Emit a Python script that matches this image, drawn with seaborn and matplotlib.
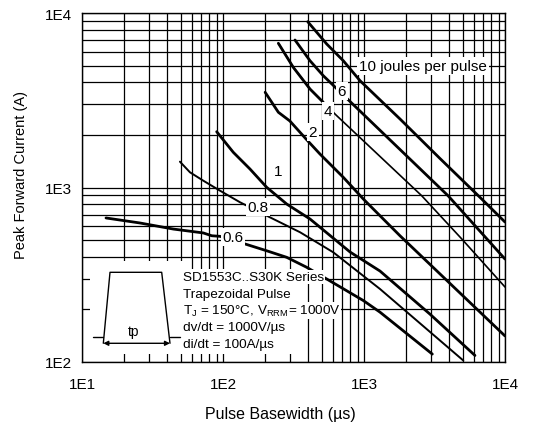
import matplotlib
matplotlib.use("Agg")
import matplotlib.pyplot as plt
import seaborn as sns
import pandas as pd
from matplotlib.ticker import LogLocator, NullFormatter
from matplotlib.patches import Rectangle

# ---------------- data ----------------
t_10 = [399, 544, 713, 937, 1800, 3459, 6836, 10000]
i_10 = [8915, 6642, 5328, 4093, 2470, 1466, 859, 634]

t_6 = [324, 414, 514, 754, 1800, 3963, 10000]
i_6 = [7003, 5328, 4373, 3245, 1651, 894, 389]

t_4 = [247, 315, 414, 514, 633, 2566, 4938, 10000]
i_4 = [6705, 4884, 3668, 3078, 2603, 897, 507, 269]

t_2 = [199, 247, 298, 388, 487, 713, 989, 1800, 10000]
i_2 = [3513, 2698, 2405, 1897, 1556, 1144, 859, 529, 141]

t_1 = [90.2, 118.3, 155.4, 204, 283, 414, 796, 1299, 2938, 6124]
i_1 = [2088, 1591, 1276, 1003, 804, 660, 427, 332, 188, 109]

t_08 = [49.5, 58.3, 72.5, 95.2, 132, 215, 352, 606, 1299, 5061]
i_08 = [1406, 1222, 1094, 959, 823, 675, 554, 425, 262, 102]

t_06 = [14.8, 25.8, 44.4, 72.5, 83.2, 95.2, 143, 204, 283, 392, 544, 989, 1299, 3051]
i_06 = [669, 626, 578, 549, 529, 525, 475, 434, 398, 349, 299, 225, 193, 111]

energies = ["10", "6", "4", "2", "1", "0.8", "0.6"]
label_text = ["10 joules per pulse", "6", "4", "2", "1", "0.8", "0.6"]
label_t = [921, 698, 555, 434, 245, 177, 118]
label_i = [4969, 3573, 2744, 2080, 1243, 773, 520]

x_ticks = [10, 100, 1000, 10000]
x_tick_labels = ["1E1", "1E2", "1E3", "1E4"]
y_ticks = [100, 1000, 10000]
y_tick_labels = ["1E2", "1E3", "1E4"]

inset_lines = [
    "SD1553C..S30K Series",
    "Trapezoidal Pulse",
    r"T$_\mathregular{J}$ = 150°C, V$_\mathregular{RRM}$= 1000V",
    "dv/dt = 1000V/µs",
    "di/dt = 100A/µs",
]

# ---------------- build table ----------------
series = [(t_10, i_10), (t_6, i_6), (t_4, i_4), (t_2, i_2), (t_1, i_1), (t_08, i_08), (t_06, i_06)]
frames = []
for name, (t, i) in zip(energies, series):
    frames.append(pd.DataFrame({"t": t, "I": i, "E": name}))
df = pd.concat(frames, ignore_index=True)

# ---------------- figure ----------------
sns.set_style("white")
plt.rcParams["font.family"] = ["Liberation Sans", "DejaVu Sans"]
plt.rcParams["mathtext.default"] = "regular"
plt.rcParams["text.color"] = "black"
plt.rcParams["axes.labelcolor"] = "black"
plt.rcParams["xtick.color"] = "black"
plt.rcParams["ytick.color"] = "black"

fig = plt.figure(figsize=(5.4, 4.31), dpi=100)
ax = fig.add_axes([82 / 540, 1 - 363 / 431, 423 / 540, 349 / 431])
ax.set_xscale("log")
ax.set_yscale("log")

widths = {"10": 2.0, "6": 2.0, "4": 1.2, "2": 2.0, "1": 2.0, "0.8": 1.4, "0.6": 2.0}
for name in energies:
    sns.lineplot(data=df[df["E"] == name], x="t", y="I", ax=ax, color="black",
                 lw=widths[name], estimator=None, sort=False, legend=False, zorder=3)

# the 4 J curve is drawn heavier above its label
sub4 = df[(df["E"] == "4") & (df["t"] <= label_t[2])]
sns.lineplot(data=sub4, x="t", y="I", ax=ax, color="black", lw=2.0,
             estimator=None, sort=False, legend=False, zorder=3)

ax.set_xlim(10, 1e4)
ax.set_ylim(100, 1e4)

ax.xaxis.set_minor_locator(LogLocator(base=10, subs=range(2, 10), numticks=20))
ax.yaxis.set_minor_locator(LogLocator(base=10, subs=range(2, 10), numticks=20))
ax.xaxis.set_minor_formatter(NullFormatter())
ax.yaxis.set_minor_formatter(NullFormatter())
ax.set_xticks(x_ticks)
ax.set_xticklabels(x_tick_labels)
ax.set_yticks(y_ticks)
ax.set_yticklabels(y_tick_labels)
ax.tick_params(which="both", length=0, labelsize=11, colors="black")
ax.tick_params(axis="x", pad=11)
ax.tick_params(axis="y", pad=7)
ax.grid(which="both", color="black", lw=0.9)
ax.set_axisbelow(True)
for s in ax.spines.values():
    s.set_color("black")
    s.set_linewidth(1.0)

ax.set_xlabel("Pulse Basewidth (µs)", fontsize=11.5, color="black")
ax.set_ylabel("Peak Forward Current (A)", fontsize=10.5, color="black")
ax.xaxis.set_label_coords(0.468, -0.125)
ax.yaxis.set_label_coords(-0.128, 0.54)

# curve labels
bb = dict(facecolor="white", edgecolor="none", pad=1.2)
for k, (txt, tx, iy) in enumerate(zip(label_text, label_t, label_i)):
    ax.text(tx, iy, txt, ha="left" if k == 0 else "center", va="center",
            fontsize=11, zorder=6, bbox=bb, color="black")

# inset (pulse diagram + conditions)
tr = ax.transAxes
ax.add_patch(Rectangle((0.0189, 0.0229), 0.2199, 0.2665, transform=tr,
                       facecolor="white", edgecolor="none", zorder=4))
ax.add_patch(Rectangle((0.2388, 0.0229), 0.2837, 0.2436, transform=tr,
                       facecolor="white", edgecolor="none", zorder=4))
ax.plot([0.0253, 0.0504], [0.0725, 0.0725], transform=tr, color="black", lw=1, zorder=5)
ax.plot([0.0504, 0.0662, 0.1884, 0.208], [0.0536, 0.257, 0.257, 0.0536],
        transform=tr, color="black", lw=1, zorder=5)
ax.plot([0.208, 0.2317], [0.0725, 0.0725], transform=tr, color="black", lw=1, zorder=5)
ax.annotate("", xy=(0.0504, 0.0536), xytext=(0.208, 0.0536), xycoords=tr, textcoords=tr,
            arrowprops=dict(arrowstyle="<|-|>", color="black", lw=1, mutation_scale=7,
                            shrinkA=0, shrinkB=0), zorder=5)
ax.text(0.1213, 0.088, "tp", transform=tr, ha="center", va="center", fontsize=10,
        zorder=6, color="black")

inset_y = [0.2444, 0.1948, 0.147, 0.0994, 0.0516]
for txt, fy in zip(inset_lines, inset_y):
    ax.text(0.2388, fy, txt, transform=tr, ha="left", va="center", fontsize=9.7,
            zorder=6, color="black",
            bbox=dict(facecolor="white", edgecolor="none", pad=0.6))

fig.savefig("out.png", dpi=100)
